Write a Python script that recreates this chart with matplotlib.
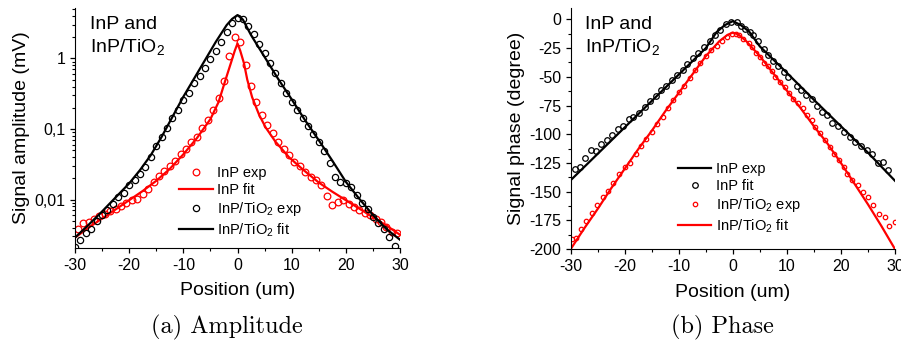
import matplotlib
matplotlib.use("Agg")
import matplotlib.pyplot as plt
from matplotlib.ticker import MultipleLocator, LogLocator, FixedLocator, FuncFormatter, NullFormatter

plt.rcParams['font.family'] = ['Liberation Sans', 'DejaVu Sans']
plt.rcParams['mathtext.fontset'] = 'custom'
plt.rcParams['mathtext.rm'] = 'Liberation Sans'
plt.rcParams['mathtext.it'] = 'Liberation Sans'
plt.rcParams['axes.unicode_minus'] = False

# ---- (a) amplitude data, mV ----
amp_tio2_exp_x = list(range(-30, 30))
amp_tio2_exp = [0.00213, 0.00271, 0.00330, 0.00388, 0.00498, 0.00600, 0.00721, 0.00859, 0.0107, 0.0124,
                0.0160, 0.0188, 0.0229, 0.0290, 0.0403, 0.0577, 0.0774, 0.104, 0.141, 0.185,
                0.256, 0.319, 0.442, 0.561, 0.738, 0.968, 1.29, 1.72, 2.34, 3.21,
                3.69, 3.61, 2.88, 2.19, 1.60, 1.18, 0.869, 0.627, 0.442, 0.319,
                0.243, 0.185, 0.141, 0.110, 0.0845, 0.0658, 0.0490, 0.0324, 0.0210, 0.0178,
                0.0172, 0.0151, 0.0115, 0.00906, 0.00745, 0.00568, 0.00467, 0.00388, 0.00295, 0.00218]

amp_inp_exp_x = [i + 0.5 for i in range(-30, 30)]
amp_inp_exp = [0.00388, 0.00457, 0.00482, 0.00537, 0.00581, 0.00632, 0.00690, 0.00745, 0.00804, 0.00897,
               0.00979, 0.0101, 0.0118, 0.0143, 0.0178, 0.0214, 0.0255, 0.0301, 0.0350, 0.0440,
               0.0528, 0.0644, 0.0774, 0.102, 0.133, 0.185, 0.271, 0.482, 1.08, 2.03,
               1.72, 0.804, 0.406, 0.243, 0.157, 0.113, 0.0863, 0.0658, 0.0528, 0.0426,
               0.0342, 0.0301, 0.0247, 0.0210, 0.0188, 0.0163, 0.0111, 0.00832, 0.00927, 0.00979,
               0.00859, 0.00771, 0.00706, 0.00647, 0.00600, 0.00537, 0.00482, 0.00409, 0.00348, 0.00330]

amp_inp_fit_x = [-30, -27.5, -25, -22.5, -20, -17.5, -15, -12.5, -10, -7.5, -5, -3.5, -2.2, -1.2, -0.5, 0,
                 0.5, 1.2, 1.8, 2.7, 4, 5.2, 7, 9.5, 12, 15, 17.5, 20, 22.5, 25, 27.5, 30]
amp_inp_fit = [0.00288, 0.00398, 0.00537, 0.00724, 0.00977, 0.0132, 0.0184, 0.0272, 0.0437, 0.0741,
               0.138, 0.240, 0.501, 0.871, 1.29, 1.63,
               1.29, 0.851, 0.501, 0.282, 0.158, 0.105, 0.0661, 0.0398, 0.0269, 0.0174, 0.0129,
               0.00977, 0.00741, 0.00562, 0.00427, 0.00316]

amp_tio2_fit_x = [-30, -27.5, -25, -22.5, -20, -18, -16, -14, -12, -10, -8, -6, -4, -2, -1, 0,
                  1, 2.5, 5, 7.5, 10, 12.5, 15, 17.5, 20, 22.5, 25, 27.5, 30]
amp_tio2_fit = [0.00288, 0.00437, 0.00676, 0.0107, 0.0169, 0.0261, 0.0426, 0.0774, 0.149, 0.286,
                0.520, 0.946, 1.72, 2.97, 3.63, 4.12,
                3.55, 2.14, 1.05, 0.513, 0.263, 0.132, 0.0692, 0.0355, 0.0178, 0.0102, 0.00603,
                0.00380, 0.00269]

# ---- (b) phase data, degree ----
ph_inp_line_x = [-30, -25, -20, -15, -10, -5, -3, -1.5, 0, 1.5, 3, 5, 10, 15, 20, 25, 30]
ph_inp_line = [-140, -117, -94, -71, -48, -25, -11, -5, -1.5, -5, -10.5, -23.5, -46.5, -70, -93, -116, -140.5]

ph_inp_circ_x = [-29.2, -28.2, -27.3, -26.3, -25.3, -24.4, -23.3, -22.3, -21.3, -20.3,
                 -19.3, -18.4, -17.3, -16.3, -15.3, -14.3, -13.3, -12.3, -11.3, -10.3,
                 -9.3, -8.4, -7.4, -6.4, -5.3, -4.3, -3.3, -2.3, -1.3, -0.3,
                 0.7, 1.5, 2.3, 3.1, 3.8, 4.7, 5.8, 6.6, 7.5, 8.4, 9.4, 10.3, 11.8, 12.7, 13.5,
                 14.6, 15.5, 16.5, 17.4, 18.4, 19.5, 20.6, 21.7, 22.6, 23.7, 24.8, 25.7, 26.8, 27.7, 28.7]
ph_inp_circ = [-130.5, -128.5, -120.6, -113.9, -114.5, -108.6, -105.1, -100.7, -95.8, -92.8,
               -87.0, -85.3, -81.2, -76.5, -70.7, -66.3, -61.3, -57.8, -53.1, -48.2,
               -43.8, -38.8, -33.6, -29.2, -23.9, -19.0, -14.0, -8.8, -4.4, -2.3,
               -2.3, -5.3, -8.2, -11.1, -14.0, -19.0, -25.7, -31.0, -36.5, -40.9, -46.1, -50.2, -57.8, -61.3, -65.7,
               -69.5, -75.3, -80.3, -83.2, -89.9, -92.8, -97.8, -102.8, -106.6, -110.4, -113.9, -117.4, -125.0, -124.1, -130.8]

ph_tio2_exp_x = [-29.8, -29.0, -28.1, -27.1, -26.1, -25.1, -24.0, -23.1, -22.1, -21.0,
                 -20.0, -19.0, -18.0, -17.0, -16.0, -15.0, -14.1, -13.0, -12.0, -11.0,
                 -10.0, -9.0, -8.0, -7.0, -6.0, -5.0, -4.0, -3.0, -2.0, -1.0, -0.2,
                 0.5, 1.1, 1.9, 2.9, 3.6, 4.2, 5.0, 5.8, 6.5, 7.2, 7.8, 8.7, 9.7, 10.4, 11.2, 12.0,
                 12.9, 13.7, 14.6, 15.2, 16.1, 17.1, 18.0, 18.8, 19.7, 20.5, 21.1, 22.0, 23.1, 24.0,
                 25.1, 26.0, 27.0, 28.1, 28.9, 30.0]
ph_tio2_exp = [-191.2, -190.4, -182.5, -175.2, -168.2, -161.2, -154.7, -149.5, -142.5, -134.9,
               -128.5, -125.0, -117.4, -110.4, -104.5, -97.8, -91.1, -84.7, -77.4, -70.1,
               -63.6, -57.8, -51.1, -44.4, -38.0, -31.5, -27.0, -23.0, -19.0, -15.5, -13.0,
               -12.3, -14.0, -16.9, -20.4, -24.2, -29.2, -32.7, -38.0, -40.9, -45.3, -50.2, -54.9, -59.0, -64.2, -69.5, -73.0,
               -77.4, -83.2, -87.6, -93.4, -98.7, -105.1, -110.9, -116.8, -122.0, -128.5, -134.3, -140.1, -144.5, -150.4,
               -154.7, -162.0, -169.3, -172.3, -179.6, -176.6]

ph_tio2_fit_x = [-30, -27.5, -25, -22.5, -20, -17.5, -15, -12.5, -10, -7.5, -5, -2.5, -1, 0,
                 1, 2.5, 5, 7.5, 10, 12.5, 15, 17.5, 20, 22.5, 25, 27.5, 30]
ph_tio2_fit = [-200, -182, -165, -147, -130, -113, -97, -80, -64, -48, -32, -19, -13.5, -11.5,
               -13, -19, -32, -47, -62, -77, -93, -108, -125, -143, -161, -180, -200]

RED = '#ff0000'

fig = plt.figure(figsize=(9.01, 3.45), dpi=100)
ax1 = fig.add_axes([0.0832, 0.281, 0.3608, 0.696])
ax2 = fig.add_axes([0.6334, 0.278, 0.3599, 0.699])


def style(ax):
    for s in ('top', 'right'):
        ax.spines[s].set_visible(False)
    ax.tick_params(which='both', direction='out', labelsize=11.5)
    ax.tick_params(which='major', length=3.5, width=0.9)
    ax.tick_params(which='minor', length=2, width=0.8)
    ax.xaxis.set_major_locator(MultipleLocator(10))
    ax.xaxis.set_minor_locator(MultipleLocator(5))
    ax.set_xlim(-30, 30)
    ax.set_xlabel('Position (um)', fontsize=14, labelpad=7)
    ax.text(0.045, 0.965, 'InP and\nInP/TiO$_2$', transform=ax.transAxes, fontsize=14,
            va='top', ha='left', linespacing=1.25)


# (a) Amplitude
ax1.plot(amp_inp_exp_x, amp_inp_exp, 'o', ms=4.8, mfc='none', mec=RED, mew=0.9, label='InP exp')
ax1.plot(amp_inp_fit_x, amp_inp_fit, '-', color=RED, lw=1.6, label='InP fit')
ax1.plot(amp_tio2_exp_x, amp_tio2_exp, 'o', ms=4.5, mfc='none', mec='black', mew=0.9, label='InP/TiO$_2$ exp')
ax1.plot(amp_tio2_fit_x, amp_tio2_fit, '-', color='black', lw=1.6, label='InP/TiO$_2$ fit')
ax1.set_yscale('log')
ax1.set_ylim(0.00205, 5.2)
ax1.yaxis.set_major_locator(FixedLocator([0.01, 0.1, 1]))
ax1.yaxis.set_minor_locator(LogLocator(base=10, subs=range(2, 10)))
ax1.yaxis.set_minor_formatter(NullFormatter())
ax1.yaxis.set_major_formatter(FuncFormatter(lambda v, p: ('%g' % v).replace('.', ',')))
ax1.set_ylabel('Signal amplitude (mV)', fontsize=14, labelpad=3)
style(ax1)
ax1.legend(loc='center', bbox_to_anchor=(0.51, 0.19), frameon=False, fontsize=10.5,
           handlelength=2.3, handletextpad=0.3, labelspacing=0.22, borderpad=0)

# (b) Phase
ax2.plot(ph_inp_line_x, ph_inp_line, '-', color='black', lw=1.6, label='InP exp')
ax2.plot(ph_inp_circ_x, ph_inp_circ, 'o', ms=4, mfc='none', mec='black', mew=0.9, label='InP fit')
ax2.plot(ph_tio2_exp_x, ph_tio2_exp, 'o', ms=3.2, mfc='none', mec=RED, mew=0.9, label='InP/TiO$_2$ exp')
ax2.plot(ph_tio2_fit_x, ph_tio2_fit, '-', color=RED, lw=1.6, label='InP/TiO$_2$ fit')
ax2.set_ylim(-200, 10)
ax2.yaxis.set_major_locator(MultipleLocator(25))
ax2.yaxis.set_minor_locator(MultipleLocator(12.5))
ax2.set_ylabel('Signal phase (degree)', fontsize=14, labelpad=3)
style(ax2)
ax2.legend(loc='center', bbox_to_anchor=(0.52, 0.21), frameon=False, fontsize=10.5,
           handlelength=2.3, handletextpad=0.3, labelspacing=0.22, borderpad=0)

fig.text(0.252, 0.05, '(a) Amplitude', family='cmr10', fontsize=17.5, ha='center', va='center')
fig.text(0.802, 0.05, '(b) Phase', family='cmr10', fontsize=17.5, ha='center', va='center')

fig.savefig('out.png', dpi=100)
